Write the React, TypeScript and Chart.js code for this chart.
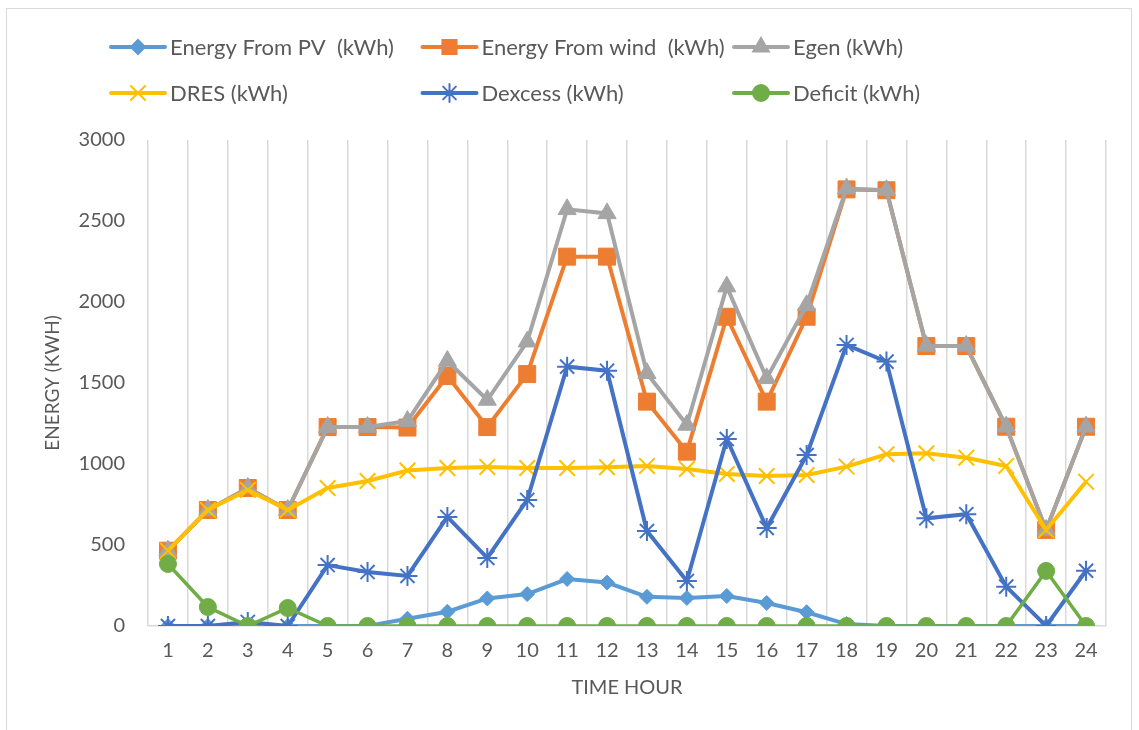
import React, { useEffect, useRef } from "react";
import { Chart, registerables } from "chart.js";
import { drawPoint } from "chart.js/helpers";

Chart.register(...registerables);

const hours = ["1","2","3","4","5","6","7","8","9","10","11","12","13","14","15","16","17","18","19","20","21","22","23","24"];
const pvValues = [0,0,0,0,0,0,45,88,170,197,290,268,180,173,185,142,85,12,0,0,0,0,0,0];
const windValues = [465,716,852,716,1228,1228,1225,1543,1228,1555,2280,2280,1385,1076,1909,1385,1909,2695,2690,1728,1728,1230,593,1230];
const egenValues = [465,716,852,716,1228,1228,1265,1636,1395,1755,2572,2547,1560,1241,2095,1529,1980,2700,2690,1728,1728,1230,593,1230];
const dresValues = [465,716,840,716,852,895,960,975,982,975,975,980,988,969,938,926,932,984,1060,1066,1039,988,593,891];
const dexcessValues = [0,0,25,0,376,333,309,673,420,778,1601,1576,586,278,1154,605,1055,1735,1632,665,690,243,0,341];
const deficitValues = [383,117,0,111,0,0,0,0,0,0,0,0,0,0,0,0,0,0,0,0,0,0,340,0];

const seriesNames = ["Energy From PV  (kWh)", "Energy From wind  (kWh)", "Egen (kWh)", "DRES (kWh)", "Dexcess (kWh)", "Deficit (kWh)"];
const seriesColors = ["#5B9BD5", "#ED7D31", "#A5A5A5", "#FFC000", "#4472C4", "#70AD47"];
const seriesStyles = ["rectRot", "rect", "triangle", "crossRot", "star", "circle"];
const seriesRadii = [7.5, 12, 10.5, 11, 10, 8.5];
const legendRadii = [7, 10, 9, 10, 9, 8];

const FONT = "Lato, 'Open Sans', sans-serif";
const TEXT = "#595959";

const legendPlugin = {
  id: "gridLegend",
  afterDraw(chart: any) {
    const ctx = chart.ctx;
    ctx.save();
    seriesNames.forEach((name, i) => {
      const col = i % 3;
      const row = Math.floor(i / 3);
      const x0 = 111 + col * 311.5;
      const y = 47 + row * 46;
      ctx.strokeStyle = seriesColors[i];
      ctx.lineWidth = 4;
      ctx.lineCap = "round";
      ctx.beginPath();
      ctx.moveTo(x0, y);
      ctx.lineTo(x0 + 54, y);
      ctx.stroke();
      ctx.fillStyle = seriesColors[i];
      ctx.strokeStyle = seriesColors[i];
      ctx.lineWidth = 2;
      drawPoint(ctx, { pointStyle: seriesStyles[i] as any, radius: legendRadii[i], rotation: 0, borderWidth: 2 } as any, x0 + 27, y);
      ctx.fillStyle = TEXT;
      ctx.font = `22px ${FONT}`;
      ctx.textBaseline = "middle";
      ctx.textAlign = "left";
      ctx.fillText(name, x0 + 59, y + 1);
    });
    ctx.restore();
  },
};

export default function App() {
  const canvasRef = useRef<HTMLCanvasElement>(null);

  useEffect(() => {
    const canvas = canvasRef.current;
    if (!canvas) return;
    const valueSets = [pvValues, windValues, egenValues, dresValues, dexcessValues, deficitValues];
    const chart = new Chart(canvas, {
      type: "line",
      data: {
        labels: hours,
        datasets: valueSets.map((vals, i) => ({
          label: seriesNames[i],
          data: vals,
          borderColor: seriesColors[i],
          backgroundColor: seriesColors[i],
          pointBackgroundColor: seriesColors[i],
          pointBorderColor: seriesColors[i],
          pointStyle: seriesStyles[i] as any,
          pointRadius: seriesRadii[i],
          pointBorderWidth: i === 3 || i === 4 ? 2 : 1,
          borderWidth: i === 5 ? 3.5 : 4,
          tension: 0,
          fill: false,
          order: 6 - i,
        })),
      },
      options: {
        responsive: false,
        animation: false,
        devicePixelRatio: 1,
        layout: { padding: { top: 140, right: 33, bottom: 0, left: 0 } },
        plugins: {
          legend: { display: false },
          tooltip: { enabled: false },
        },
        scales: {
          x: {
            offset: true,
            grid: { display: true, offset: true, color: "#D9D9D9", lineWidth: 1.5, drawTicks: false },
            border: { display: true, color: "#D9D9D9", width: 1.5 },
            ticks: { color: TEXT, font: { family: FONT, size: 20 }, padding: 13, maxRotation: 0, autoSkip: false },
            title: { display: true, text: "TIME HOUR", color: TEXT, font: { family: FONT, size: 20 }, padding: { top: 0, bottom: 30 } },
            afterFit: (s: any) => { s.height = 104; },
          },
          y: {
            min: 0,
            max: 3000,
            ticks: { stepSize: 500, color: TEXT, font: { family: FONT, size: 20 }, padding: 23, callback: (v: any) => String(v) },
            grid: { display: false, drawTicks: false },
            border: { display: false },
            title: { display: true, text: "ENERGY (KWH)", color: TEXT, font: { family: FONT, size: 19 }, padding: { top: 41, bottom: 0 } },
            afterFit: (s: any) => { s.width = 148; },
          },
        },
      },
      plugins: [legendPlugin],
    });
    return () => chart.destroy();
  }, []);

  return (
    <div style={{ position: "fixed", left: 0, top: 0, width: 1139, height: 730, background: "#fff", overflow: "hidden" }}>
      <canvas ref={canvasRef} width={1139} height={730} style={{ position: "absolute", left: 0, top: 0, width: 1139, height: 730 }} />
      <div style={{ position: "absolute", left: 6, top: 8, width: 1126, height: 740, border: "1.5px solid #D9D9D9", pointerEvents: "none", boxSizing: "border-box" }} />
    </div>
  );
}
